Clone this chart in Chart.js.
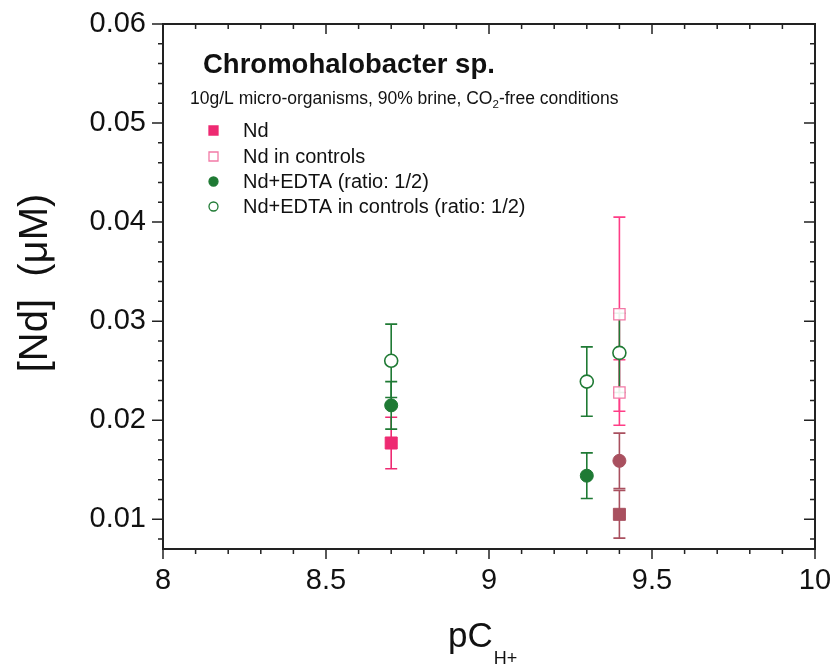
<!DOCTYPE html>
<html>
<head>
<meta charset="utf-8">
<script src="https://cdn.jsdelivr.net/npm/chart.js@4.4.1/dist/chart.umd.min.js"></script>
<style>
  body{margin:0;background:#fff;}
  #wrap{width:834px;height:666px;position:relative;}
</style>
</head>
<body>
<div id="wrap"><canvas id="ndChart"></canvas></div>
<script>
// data
const xTicks=[8,8.5,9,9.5,10];
const yTicks=[0.01,0.02,0.03,0.04,0.05,0.06];

const ndX=[8.7,9.4];
const ndY=[0.0177,0.0105];
const ndErr=[0.0026,0.0024];

const ndCtrlX=[9.4,9.4];
const ndCtrlY=[0.0307,0.0228];
const ndCtrlErr=[0.0098,0.0033];

const edtaX=[8.7,9.3,9.4];
const edtaY=[0.0215,0.0144,0.0159];
const edtaErr=[0.0024,0.0023,0.0028];

const edtaCtrlX=[8.7,9.3,9.4];
const edtaCtrlY=[0.026,0.0239,0.0268];
const edtaCtrlErr=[0.0037,0.0035,0.004];

const FONT="'Liberation Sans', Arial, sans-serif";
const pink='#ee2a72', pinkLight='#f27aa6', green='#1f7a34', mauve='#a9505f';

function pts(xs,ys,errs){
  return xs.map((x,i)=>({x:x,y:ys[i],err:errs[i]}));
}

// error bars under the markers
const errorBars={
  id:'errorBars',
  beforeDatasetsDraw(chart){
    const c=chart.ctx, xs=chart.scales.x, ys=chart.scales.y;
    chart.data.datasets.forEach(ds=>{
      ds.data.forEach((p,i)=>{
        const px=xs.getPixelForValue(p.x);
        const top=ys.getPixelForValue(p.y+p.err);
        const bot=ys.getPixelForValue(p.y-p.err);
        c.save();
        c.strokeStyle=Array.isArray(ds.barColor)?ds.barColor[i]:ds.barColor;
        c.lineWidth=1.6;
        c.beginPath();
        c.moveTo(px,top);c.lineTo(px,bot);
        c.moveTo(px-6,top);c.lineTo(px+6,top);
        c.moveTo(px-6,bot);c.lineTo(px+6,bot);
        c.stroke();
        c.restore();
      });
    });
  }
};

// frame, tick marks, titles and legend
const decor={
  id:'decor',
  afterDraw(chart){
    const c=chart.ctx, a=chart.chartArea, xs=chart.scales.x, ys=chart.scales.y;
    c.save();
    c.strokeStyle='#222';
    c.lineWidth=2;
    c.strokeRect(a.left,a.top,a.right-a.left,a.bottom-a.top);
    c.lineWidth=1.5;
    c.beginPath();
    for(let k=0;k<=20;k++){
      const v=8+k*0.1, px=xs.getPixelForValue(v);
      const len=(k%5===0)?10:5;
      c.moveTo(px,a.bottom);c.lineTo(px,a.bottom+len);
      c.moveTo(px,a.top);c.lineTo(px,a.top+len);
    }
    for(let k=4;k<=30;k++){
      const v=k*0.002, py=ys.getPixelForValue(v);
      const len=(k%5===0)?11:5;
      c.moveTo(a.left,py);c.lineTo(a.left-len,py);
      c.moveTo(a.right,py);c.lineTo(a.right-len,py);
    }
    c.stroke();

    c.fillStyle='#111';
    // y axis title
    c.save();
    c.translate(47,283);
    c.rotate(-Math.PI/2);
    c.font='40px '+FONT;
    c.textAlign='center';
    c.textBaseline='alphabetic';
    c.fillText('[Nd]  (\u03bcM)',0,0);
    c.restore();

    // x axis title with subscript
    c.font='35px '+FONT;
    c.textAlign='left';
    c.textBaseline='alphabetic';
    c.fillText('pC',448,647);
    const w=c.measureText('pC').width;
    c.font='18px '+FONT;
    c.fillText('H+',448+w+1,664);

    // header text
    c.font='bold 27.5px '+FONT;
    c.fillText('Chromohalobacter sp.',203,73);
    c.font='17.5px '+FONT;
    let tx=190;
    const s1='10g/L micro-organisms, 90% brine, CO';
    c.fillText(s1,tx,104);
    tx+=c.measureText(s1).width;
    c.font='11.5px '+FONT;
    c.fillText('2',tx,108);
    tx+=c.measureText('2').width;
    c.font='17.5px '+FONT;
    c.fillText('-free conditions',tx,104);

    // legend
    const rows=[137,163,188,213];
    chart.data.datasets.forEach((ds,i)=>{
      const my=rows[i]-6.5;
      c.lineWidth=1.3;
      c.strokeStyle=ds.legendColor;
      c.fillStyle=ds.legendFill;
      c.beginPath();
      if(ds.pointStyle==='rect'){
        c.rect(209,my-4.5,9,9);
      } else {
        c.arc(213.5,my,4.5,0,Math.PI*2);
      }
      c.fill();c.stroke();
      c.fillStyle='#111';
      c.font='20px '+FONT;
      c.fillText(ds.label,243,rows[i]);
    });
    c.restore();
  }
};

const tickFont={family:FONT,size:29};

new Chart(document.getElementById('ndChart'),{
  type:'scatter',
  data:{
    datasets:[
      {
        label:'Nd',
        data:pts(ndX,ndY,ndErr),
        pointStyle:'rect',
        pointRadius:8.5,
        backgroundColor:[pink,mauve],
        borderColor:[pink,mauve],
        barColor:[pink,mauve],
        legendColor:pink,legendFill:pink
      },
      {
        label:'Nd in controls',
        data:pts(ndCtrlX,ndCtrlY,ndCtrlErr),
        pointStyle:'rect',
        pointRadius:8,
        borderWidth:1.3,
        backgroundColor:'rgba(255,255,255,0.9)',
        borderColor:pinkLight,
        barColor:'#ff3d86',
        legendColor:pinkLight,legendFill:'#fff'
      },
      {
        label:'Nd+EDTA (ratio: 1/2)',
        data:pts(edtaX,edtaY,edtaErr),
        pointStyle:'circle',
        pointRadius:6.5,
        backgroundColor:[green,green,mauve],
        borderColor:[green,green,mauve],
        barColor:[green,green,mauve],
        legendColor:green,legendFill:green
      },
      {
        label:'Nd+EDTA in controls (ratio: 1/2)',
        data:pts(edtaCtrlX,edtaCtrlY,edtaCtrlErr),
        pointStyle:'circle',
        pointRadius:6.5,
        borderWidth:1.6,
        backgroundColor:'#fff',
        borderColor:green,
        barColor:green,
        legendColor:green,legendFill:'#fff'
      }
    ]
  },
  options:{
    responsive:true,
    maintainAspectRatio:false,
    animation:false,
    layout:{padding:{top:24,right:19,left:0,bottom:0}},
    plugins:{legend:{display:false},tooltip:{enabled:false}},
    scales:{
      x:{
        type:'linear',
        min:8,max:10,
        afterBuildTicks:s=>{s.ticks=xTicks.map(v=>({value:v}));},
        afterFit:s=>{s.height=117;s.paddingLeft=0;s.paddingRight=0;},
        grid:{display:false,drawTicks:false},
        border:{display:false},
        ticks:{font:tickFont,color:'#111',padding:15,maxRotation:0,callback:v=>String(v)}
      },
      y:{
        type:'linear',
        min:0.007,max:0.06,
        afterBuildTicks:s=>{s.ticks=yTicks.map(v=>({value:v}));},
        afterFit:s=>{s.width=163;s.paddingTop=0;s.paddingBottom=0;},
        grid:{display:false,drawTicks:false},
        border:{display:false},
        ticks:{font:tickFont,color:'#111',padding:17,callback:v=>v.toFixed(2)}
      }
    }
  },
  plugins:[errorBars,decor]
});
</script>
</body>
</html>
